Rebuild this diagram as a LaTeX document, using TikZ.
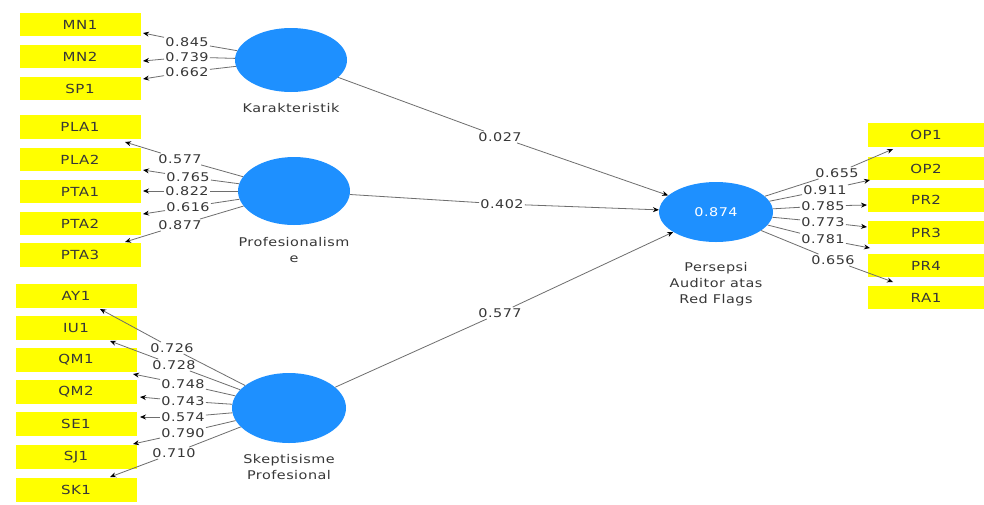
\documentclass[tikz,border=0pt]{standalone}
\usepackage{fontspec}
\setmainfont{DejaVu Sans}[FakeStretch=1.2,LetterSpace=4]
\usetikzlibrary{shapes.geometric,arrows.meta}
\definecolor{lvblue}{RGB}{30,144,255}
\definecolor{indyel}{RGB}{255,255,0}
\definecolor{lngray}{RGB}{110,110,110}
\definecolor{txgray}{RGB}{55,55,55}
\begin{document}
\begin{tikzpicture}[x=1pt,y=-1pt,
  indbox/.style={fill=indyel, minimum width=121pt, minimum height=23.5pt, inner sep=0pt,
    font=\fontsize{12.5}{14}\selectfont, text=txgray},
  rbox/.style={indbox, minimum width=116pt},
  latent/.style={ellipse, fill=lvblue, inner sep=0pt},
  wt/.style={inner sep=1.2pt, font=\fontsize{12}{14}\selectfont, text=txgray},
  capt/.style={align=center, inner sep=0pt, font=\fontsize{12}{16}\selectfont, text=txgray},
  seg/.style={draw=lngray, line width=0.8pt},
  arr/.style={seg, -{Stealth[length=6pt,width=5pt,black]}}
]
\useasboundingbox (0,0) rectangle (984,504);
\fill[white] (0,0) rectangle (984,504);

% indicator boxes (left)
\node[indbox] (MN1) at (80,24.5) {MN1};
\node[indbox] (MN2) at (80,56.5) {MN2};
\node[indbox] (SP1) at (80,88.5) {SP1};
\node[indbox] (PLA1) at (80,127) {PLA1};
\node[indbox] (PLA2) at (80,159.5) {PLA2};
\node[indbox] (PTA1) at (80,191.5) {PTA1};
\node[indbox] (PTA2) at (80,223.5) {PTA2};
\node[indbox] (PTA3) at (80,255) {PTA3};
\node[indbox] (AY1) at (76,296) {AY1};
\node[indbox] (IU1) at (76,328) {IU1};
\node[indbox] (QM1) at (76,360) {QM1};
\node[indbox] (QM2) at (76,392) {QM2};
\node[indbox] (SE1) at (76,424) {SE1};
\node[indbox] (SJ1) at (76,457) {SJ1};
\node[indbox] (SK1) at (76,490) {SK1};
% indicator boxes (right)
\node[rbox] (OP1) at (926,135) {OP1};
\node[rbox] (OP2) at (926,168.5) {OP2};
\node[rbox] (PR2) at (926,200) {PR2};
\node[rbox] (PR3) at (926,232.5) {PR3};
\node[rbox] (PR4) at (926,265.5) {PR4};
\node[rbox] (RA1) at (926,297.5) {RA1};

% latent variables
\node[latent, minimum width=112pt, minimum height=64pt] (K) at (291,60) {};
\node[latent, minimum width=112pt, minimum height=68pt] (PF) at (294,191) {};
\node[latent, minimum width=114pt, minimum height=70pt] (SK) at (289,408) {};
\node[latent, minimum width=114pt, minimum height=60pt, text=white,
  font=\fontsize{12}{14}\selectfont] (PA) at (716,212) {0.874};

\node[capt] (Kc) at (291,108) {Karakteristik};
\node[capt] (PFc) at (294,250) {Profesionalism\\e};
\node[capt] (SKc) at (289,467.5) {Skeptisisme\\Profesional};
\node[capt] (PAc) at (716,284) {Persepsi\\Auditor atas\\Red Flags};

% arrow tip points
\coordinate (tMN1) at (143,33);
\coordinate (tMN2) at (143,61);
\coordinate (tSP1) at (143,79);
\coordinate (tPLA1) at (125,142);
\coordinate (tPLA2) at (143,170);
\coordinate (tPTA1) at (143,191);
\coordinate (tPTA2) at (143,214);
\coordinate (tPTA3) at (125,242);
\coordinate (tAY1) at (100,309);
\coordinate (tIU1) at (110,341);
\coordinate (tQM1) at (133,374);
\coordinate (tQM2) at (140,397);
\coordinate (tSE1) at (140,417);
\coordinate (tSJ1) at (133,444);
\coordinate (tSK1) at (110,477);
\coordinate (tOP1) at (893,149);
\coordinate (tOP2) at (870,180);
\coordinate (tPR2) at (867,205);
\coordinate (tPR3) at (867,227);
\coordinate (tPR4) at (870,248);
\coordinate (tRA1) at (893,282);

% loading labels
\node[wt] (k1) at (187,42) {0.845};
\node[wt] (k2) at (187,57) {0.739};
\node[wt] (k3) at (187,72) {0.662};
\node[wt] (p1) at (180,159) {0.577};
\node[wt] (p2) at (188,177) {0.765};
\node[wt] (p3) at (187,191) {0.822};
\node[wt] (p4) at (188,207) {0.616};
\node[wt] (p5) at (180,225) {0.877};
\node[wt] (q1) at (172,348) {0.726};
\node[wt] (q2) at (174,365) {0.728};
\node[wt] (q3) at (183,384) {0.748};
\node[wt] (q4) at (183,401) {0.743};
\node[wt] (q5) at (183,417) {0.574};
\node[wt] (q6) at (183,433) {0.790};
\node[wt] (q7) at (174,453) {0.710};
\node[wt] (r1) at (837,173) {0.655};
\node[wt] (r2) at (825,190) {0.911};
\node[wt] (r3) at (823,206) {0.785};
\node[wt] (r4) at (823,222) {0.773};
\node[wt] (r5) at (823,239) {0.781};
\node[wt] (r6) at (833,260) {0.656};
\node[wt] (s1) at (500,137) {0.027};
\node[wt] (s2) at (502,204) {0.402};
\node[wt] (s3) at (500,313) {0.577};

% loadings
\foreach \l/\t in {k1/tMN1,k2/tMN2,k3/tSP1}{\draw[seg] (K) -- (\l); \draw[arr] (\l) -- (\t);}
\foreach \l/\t in {p1/tPLA1,p2/tPLA2,p3/tPTA1,p4/tPTA2,p5/tPTA3}{\draw[seg] (PF) -- (\l); \draw[arr] (\l) -- (\t);}
\foreach \l/\t in {q1/tAY1,q2/tIU1,q3/tQM1,q4/tQM2,q5/tSE1,q6/tSJ1,q7/tSK1}{\draw[seg] (SK) -- (\l); \draw[arr] (\l) -- (\t);}
\foreach \l/\t in {r1/tOP1,r2/tOP2,r3/tPR2,r4/tPR3,r5/tPR4,r6/tRA1}{\draw[seg] (PA) -- (\l); \draw[arr] (\l) -- (\t);}

% paths
\draw[seg] (K) -- (s1); \draw[arr] (s1) -- (PA);
\draw[seg] (PF) -- (s2); \draw[arr] (s2) -- (PA);
\draw[seg] (SK) -- (s3); \draw[arr] (s3) -- (PA);
\end{tikzpicture}
\end{document}
